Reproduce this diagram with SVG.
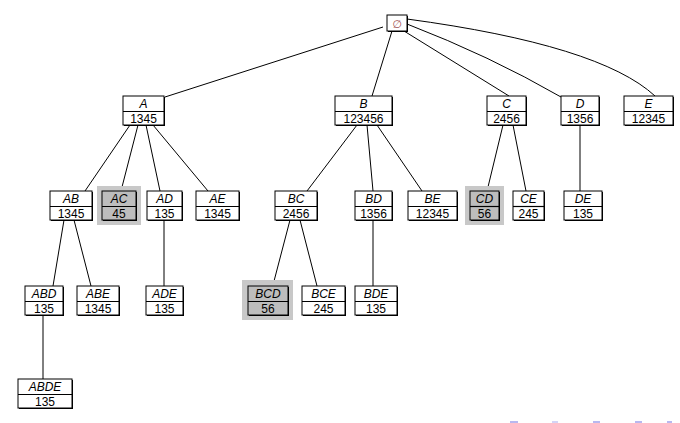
<svg xmlns="http://www.w3.org/2000/svg" width="680" height="423" viewBox="0 0 680 423">
<defs>
<style>
.bx{fill:#fff;stroke:#000;stroke-width:1}
.sh{fill:#000}
.hl{fill:#c8c8c8}
.g{fill:#bdbdbd}
.dv{stroke:#000;stroke-width:1.2}
.t{font-family:"Liberation Sans",Arial,sans-serif;font-size:12px;fill:#000;text-anchor:middle}
.i{font-style:italic}
.e{fill:none;stroke:#000;stroke-width:1}
.nav{fill:#b8b8f0}
</style>
</defs>
<rect width="680" height="423" fill="#fff"/>
<g id="connectors">
<path class="e" d="M383,27 L165,97"/>
<path class="e" d="M392,31 L372,96"/>
<path class="e" d="M404,31 L509,96"/>
<path class="e" d="M407,24 Q490,56 561,97"/>
<path class="e" d="M407,19 Q600,45 655,96"/>
<path class="e" d="M130,125 L85,191"/>
<path class="e" d="M138,125 L122,187"/>
<path class="e" d="M146,125 L160,191"/>
<path class="e" d="M153,125 L208,191"/>
<path class="e" d="M357,125 L307,191"/>
<path class="e" d="M367,125 L373,191"/>
<path class="e" d="M377,125 L422,191"/>
<path class="e" d="M503,125 L488,187"/>
<path class="e" d="M513,125 L526,191"/>
<path class="e" d="M580,125 L580,191"/>
<path class="e" d="M64,220 L53,286"/>
<path class="e" d="M74,220 L91,286"/>
<path class="e" d="M164,220 L164,286"/>
<path class="e" d="M290,220 L273,285"/>
<path class="e" d="M300,220 L317,286"/>
<path class="e" d="M373,220 L373,286"/>
<path class="e" d="M43,315 L43,379"/>
</g>
<g id="root">
<rect class="sh" x="388" y="16" width="20" height="16"/>
<rect class="bx" x="387" y="15" width="20" height="16"/>
<text x="397" y="27.5" style="font-family:'DejaVu Sans',sans-serif;font-size:11px;fill:#a05050;text-anchor:middle">∅</text>
</g>
<g id="A">
<rect class="sh" x="124" y="97" width="41" height="29"/>
<rect class="bx" x="123" y="96" width="41" height="29"/>
<line class="dv" x1="123" y1="111.5" x2="164" y2="111.5"/>
<text class="t i" x="143.5" y="107.5">A</text><text class="t" x="143.5" y="122.5">1345</text>
</g>
<g id="B">
<rect class="sh" x="336" y="97" width="57" height="29"/>
<rect class="bx" x="335" y="96" width="57" height="29"/>
<line class="dv" x1="335" y1="111.5" x2="392" y2="111.5"/>
<text class="t i" x="363.5" y="107.5">B</text><text class="t" x="363.5" y="122.5">123456</text>
</g>
<g id="C">
<rect class="sh" x="488" y="97" width="39" height="29"/>
<rect class="bx" x="487" y="96" width="39" height="29"/>
<line class="dv" x1="487" y1="111.5" x2="526" y2="111.5"/>
<text class="t i" x="506.5" y="107.5">C</text><text class="t" x="506.5" y="122.5">2456</text>
</g>
<g id="D">
<rect class="sh" x="562" y="97" width="38" height="29"/>
<rect class="bx" x="561" y="96" width="38" height="29"/>
<line class="dv" x1="561" y1="111.5" x2="599" y2="111.5"/>
<text class="t i" x="580" y="107.5">D</text><text class="t" x="580" y="122.5">1356</text>
</g>
<g id="E">
<rect class="sh" x="625" y="97" width="49" height="29"/>
<rect class="bx" x="624" y="96" width="49" height="29"/>
<line class="dv" x1="624" y1="111.5" x2="673" y2="111.5"/>
<text class="t i" x="648.5" y="107.5">E</text><text class="t" x="648.5" y="122.5">12345</text>
</g>
<g id="AB">
<rect class="sh" x="51" y="192" width="42" height="29"/>
<rect class="bx" x="50" y="191" width="42" height="29"/>
<line class="dv" x1="50" y1="206.5" x2="92" y2="206.5"/>
<text class="t i" x="71" y="202.5">AB</text><text class="t" x="71" y="217.5">1345</text>
</g>
<g id="AC">
<rect class="hl" x="97" y="186" width="44" height="39"/>
<rect class="sh" x="103" y="192" width="34" height="29"/>
<rect class="bx g" x="102" y="191" width="34" height="29"/>
<line class="dv" x1="102" y1="206.5" x2="136" y2="206.5"/>
<text class="t i" x="119" y="202.5">AC</text><text class="t" x="119" y="217.5">45</text>
</g>
<g id="AD">
<rect class="sh" x="148" y="192" width="35" height="29"/>
<rect class="bx" x="147" y="191" width="35" height="29"/>
<line class="dv" x1="147" y1="206.5" x2="182" y2="206.5"/>
<text class="t i" x="164.5" y="202.5">AD</text><text class="t" x="164.5" y="217.5">135</text>
</g>
<g id="AE">
<rect class="sh" x="197" y="192" width="43" height="29"/>
<rect class="bx" x="196" y="191" width="43" height="29"/>
<line class="dv" x1="196" y1="206.5" x2="239" y2="206.5"/>
<text class="t i" x="217.5" y="202.5">AE</text><text class="t" x="217.5" y="217.5">1345</text>
</g>
<g id="BC">
<rect class="sh" x="276" y="192" width="42" height="29"/>
<rect class="bx" x="275" y="191" width="42" height="29"/>
<line class="dv" x1="275" y1="206.5" x2="317" y2="206.5"/>
<text class="t i" x="296" y="202.5">BC</text><text class="t" x="296" y="217.5">2456</text>
</g>
<g id="BD">
<rect class="sh" x="356" y="192" width="37" height="29"/>
<rect class="bx" x="355" y="191" width="37" height="29"/>
<line class="dv" x1="355" y1="206.5" x2="392" y2="206.5"/>
<text class="t i" x="373.5" y="202.5">BD</text><text class="t" x="373.5" y="217.5">1356</text>
</g>
<g id="BE">
<rect class="sh" x="409" y="192" width="49" height="29"/>
<rect class="bx" x="408" y="191" width="49" height="29"/>
<line class="dv" x1="408" y1="206.5" x2="457" y2="206.5"/>
<text class="t i" x="432.5" y="202.5">BE</text><text class="t" x="432.5" y="217.5">12345</text>
</g>
<g id="CD">
<rect class="hl" x="465" y="186" width="39" height="39"/>
<rect class="sh" x="471" y="192" width="29" height="29"/>
<rect class="bx g" x="470" y="191" width="29" height="29"/>
<line class="dv" x1="470" y1="206.5" x2="499" y2="206.5"/>
<text class="t i" x="484.5" y="202.5">CD</text><text class="t" x="484.5" y="217.5">56</text>
</g>
<g id="CE">
<rect class="sh" x="514" y="192" width="31" height="29"/>
<rect class="bx" x="513" y="191" width="31" height="29"/>
<line class="dv" x1="513" y1="206.5" x2="544" y2="206.5"/>
<text class="t i" x="528.5" y="202.5">CE</text><text class="t" x="528.5" y="217.5">245</text>
</g>
<g id="DE">
<rect class="sh" x="565" y="192" width="38" height="29"/>
<rect class="bx" x="564" y="191" width="38" height="29"/>
<line class="dv" x1="564" y1="206.5" x2="602" y2="206.5"/>
<text class="t i" x="583" y="202.5">DE</text><text class="t" x="583" y="217.5">135</text>
</g>
<g id="ABD">
<rect class="sh" x="26" y="287" width="38" height="29"/>
<rect class="bx" x="25" y="286" width="38" height="29"/>
<line class="dv" x1="25" y1="301.5" x2="63" y2="301.5"/>
<text class="t i" x="44" y="297.5">ABD</text><text class="t" x="44" y="312.5">135</text>
</g>
<g id="ABE">
<rect class="sh" x="78" y="287" width="42" height="29"/>
<rect class="bx" x="77" y="286" width="42" height="29"/>
<line class="dv" x1="77" y1="301.5" x2="119" y2="301.5"/>
<text class="t i" x="98" y="297.5">ABE</text><text class="t" x="98" y="312.5">1345</text>
</g>
<g id="ADE">
<rect class="sh" x="147" y="287" width="37" height="29"/>
<rect class="bx" x="146" y="286" width="37" height="29"/>
<line class="dv" x1="146" y1="301.5" x2="183" y2="301.5"/>
<text class="t i" x="164.5" y="297.5">ADE</text><text class="t" x="164.5" y="312.5">135</text>
</g>
<g id="BCD">
<rect class="hl" x="242" y="280" width="51" height="40"/>
<rect class="sh" x="249" y="287" width="40" height="29"/>
<rect class="bx g" x="248" y="286" width="40" height="29"/>
<line class="dv" x1="248" y1="301.5" x2="288" y2="301.5"/>
<text class="t i" x="268" y="297.5">BCD</text><text class="t" x="268" y="312.5">56</text>
</g>
<g id="BCE">
<rect class="sh" x="303" y="287" width="43" height="29"/>
<rect class="bx" x="302" y="286" width="43" height="29"/>
<line class="dv" x1="302" y1="301.5" x2="345" y2="301.5"/>
<text class="t i" x="323.5" y="297.5">BCE</text><text class="t" x="323.5" y="312.5">245</text>
</g>
<g id="BDE">
<rect class="sh" x="356" y="287" width="42" height="29"/>
<rect class="bx" x="355" y="286" width="42" height="29"/>
<line class="dv" x1="355" y1="301.5" x2="397" y2="301.5"/>
<text class="t i" x="376" y="297.5">BDE</text><text class="t" x="376" y="312.5">135</text>
</g>
<g id="ABDE">
<rect class="sh" x="19" y="380" width="54" height="29"/>
<rect class="bx" x="18" y="379" width="54" height="29"/>
<line class="dv" x1="18" y1="394.5" x2="72" y2="394.5"/>
<text class="t i" x="45" y="390.5">ABDE</text><text class="t" x="45" y="405.5">135</text>
</g>
<g id="nav">
<rect class="nav" x="510" y="421" width="8" height="2"/>
<rect class="nav" x="552" y="421" width="6" height="2" opacity="0.6"/>
<rect class="nav" x="593" y="421" width="7" height="2"/>
<rect class="nav" x="635" y="421" width="7" height="2"/>
<rect class="nav" x="667" y="421" width="5" height="2"/>
</g>
</svg>
